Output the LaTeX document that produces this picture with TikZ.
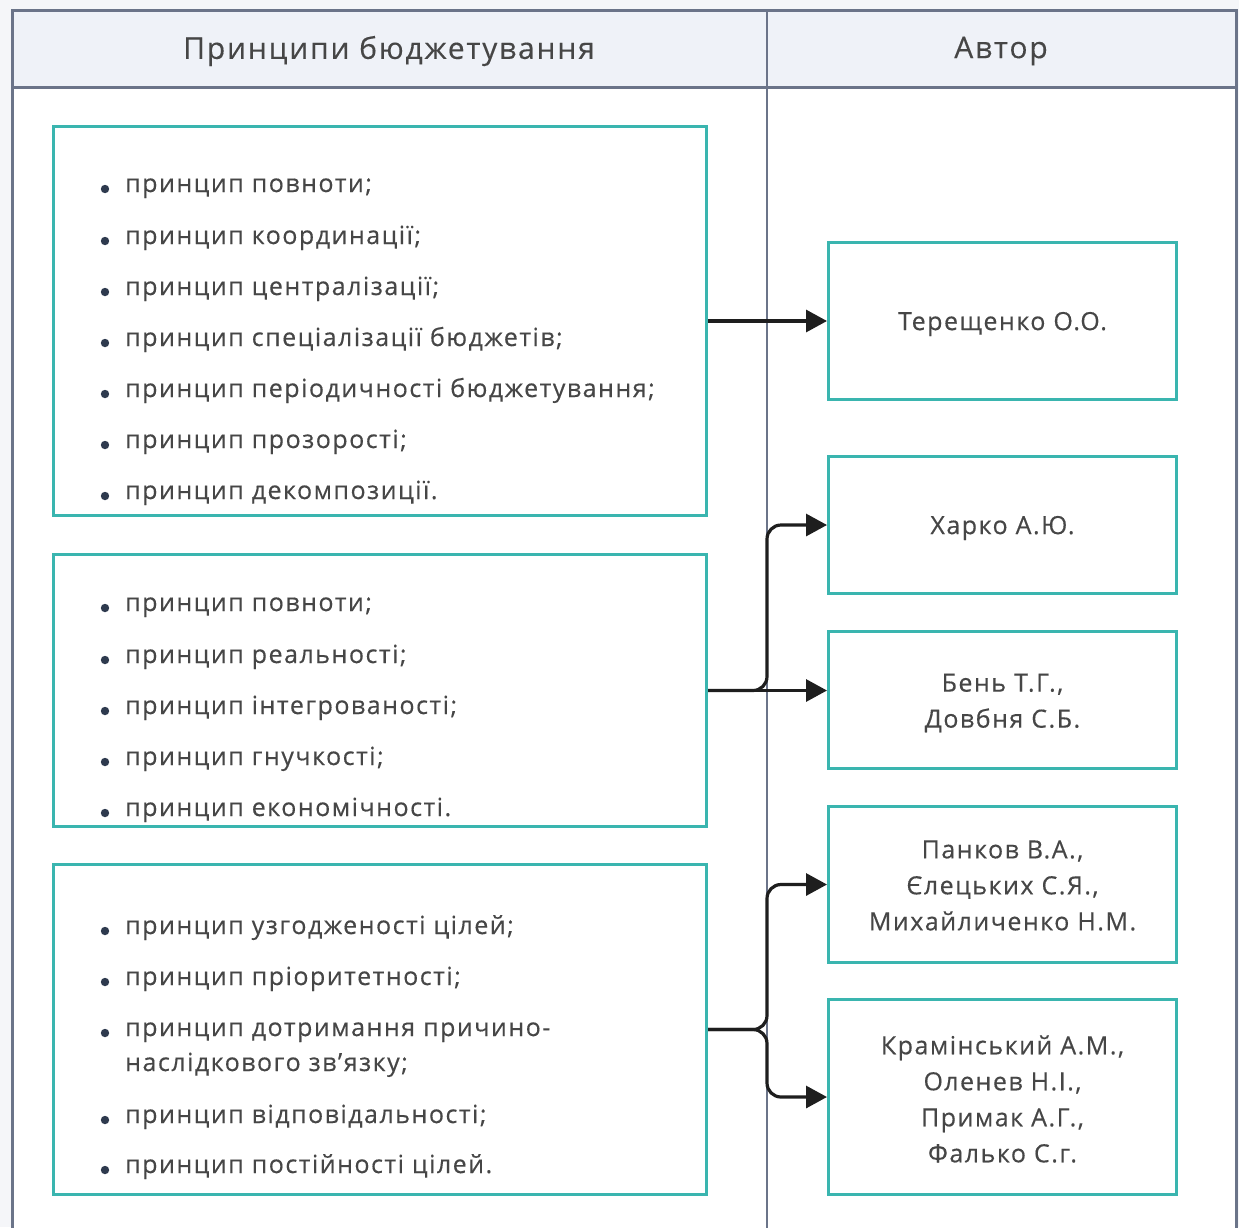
\documentclass[tikz,border=0pt]{standalone}
\usepackage{fontspec}
\setmainfont{Open Sans}
\newfontfamily\bodyfont[LetterSpace=6,FakeBold=0.35]{Open Sans}
\newfontfamily\headfont[LetterSpace=6,FakeBold=0.3]{Open Sans}
\usetikzlibrary{arrows.meta,calc}
\definecolor{teal1}{HTML}{3AB5AF}
\definecolor{frame1}{HTML}{6B7489}
\definecolor{head1}{HTML}{EFF2F8}
\definecolor{page1}{HTML}{F5F6F9}
\definecolor{ink1}{HTML}{464646}
\definecolor{dot1}{HTML}{2E3A4E}
\definecolor{wire1}{HTML}{1E1E1E}
\begin{document}
\begin{tikzpicture}[x=1pt,y=-1pt,
  panel/.style={draw=teal1,line width=3pt,fill=white,anchor=north west,inner sep=0pt},
  author/.style={font=\bodyfont\fontsize{25}{36}\selectfont,text=ink1,align=center},
  item/.style={anchor=base west,inner sep=0pt,font=\bodyfont\fontsize{25}{28}\selectfont,text=ink1},
  heading/.style={font=\headfont\fontsize{30}{34}\selectfont,text=ink1},
  wire/.style={draw=wire1,line width=3.2pt,-{Triangle[length=21pt,width=22pt]}},
  dot/.style={fill=dot1}]
% page and table frame
\fill[page1] (0,0) rectangle (1239,1227);
\useasboundingbox (0,0) rectangle (1239,1227);
\fill[white] (12,10) rectangle (1236,1240);
\fill[head1] (12,10) rectangle (1236,87);
\draw[frame1,line width=3pt] (12,1240) -- (12,10) -- (1236,10) -- (1236,1240);
\draw[frame1,line width=3pt] (12,87) -- (1236,87);
\draw[frame1,line width=2.5pt] (767,10) -- (767,1240);
\coordinate (colsep) at (767,0);
\node[heading] (h1) at (389,51) {Принципи бюджетування};
\node[heading] (h2) at (1001,51) {Автор};

% principle groups
\node[panel,minimum width=653pt,minimum height=389pt] (g1) at (52,125) {};
\node[panel,minimum width=653pt,minimum height=272pt] (g2) at (52,553) {};
\node[panel,minimum width=653pt,minimum height=330pt] (g3) at (52,863) {};

% authors
\node[panel,minimum width=348pt,minimum height=157pt] (a1) at (827,241) {};
\node[panel,minimum width=348pt,minimum height=137pt] (a2) at (827,455) {};
\node[panel,minimum width=348pt,minimum height=137pt] (a3) at (827,630) {};
\node[panel,minimum width=348pt,minimum height=156pt] (a4) at (827,805) {};
\node[panel,minimum width=348pt,minimum height=195pt] (a5) at (827,998) {};
\node[author] (t1) at ($(a1.center)+(0,3)$) {Терещенко О.О.};
\node[author] (t2) at ($(a2.center)+(0,3)$) {Харко А.Ю.};
\node[author] (t3) at ($(a3.center)+(0,3)$) {Бень Т.Г.,\\Довбня С.Б.};
\node[author] (t4) at ($(a4.center)+(0,1)$) {Панков В.А.,\\Єлецьких С.Я.,\\Михайличенко Н.М.};
\node[author] (t5) at ($(a5.center)+(0,2)$) {Крамінський А.М.,\\Оленев Н.І.,\\Примак А.Г.,\\Фалько С.г.};

% bullet lines: first group
\foreach \n/\yy/\txt in {1/192/{принцип повноти;},2/244/{принцип координації;},3/295/{принцип централізації;},4/346/{принцип спеціалізації бюджетів;},5/397/{принцип періодичності бюджетування;},6/448/{принцип прозорості;},7/499/{принцип декомпозиції.}}{
  \fill[dot] (105,\yy-3) circle (4.2);
  \node[item] (p1\n) at (125,\yy) {\txt};
}
% second group
\foreach \n/\yy/\txt in {1/611/{принцип повноти;},2/663/{принцип реальності;},3/714/{принцип інтегрованості;},4/765/{принцип гнучкості;},5/816/{принцип економічності.}}{
  \fill[dot] (105,\yy-3) circle (4.2);
  \node[item] (p2\n) at (125,\yy) {\txt};
}
% third group
\foreach \n/\yy/\txt in {1/934/{принцип узгодженості цілей;},2/985/{принцип пріоритетності;},3/1036/{принцип дотримання причино-},5/1123/{принцип відповідальності;},6/1173/{принцип постійності цілей.}}{
  \fill[dot] (105,\yy-3) circle (4.2);
  \node[item] (p3\n) at (125,\yy) {\txt};
}
\node[item] (p34) at (125,1071) {наслідкового зв’язку;};

% connectors
\draw[wire] (g1.east) -- (g1.east -| a1.west);
\coordinate (j2) at (g2.east -| colsep);
\coordinate (j3) at (g3.east -| colsep);
\draw[wire] (g2.east) -- (g2.east -| a3.west);
\draw[wire,rounded corners=14pt] (g2.east) -- (j2) |- (a2.west);
\draw[wire,rounded corners=14pt] (g3.east) -- (j3) |- (a4.west);
\draw[wire,rounded corners=14pt] (g3.east) -- (j3) |- (a5.west);
\end{tikzpicture}
\end{document}
